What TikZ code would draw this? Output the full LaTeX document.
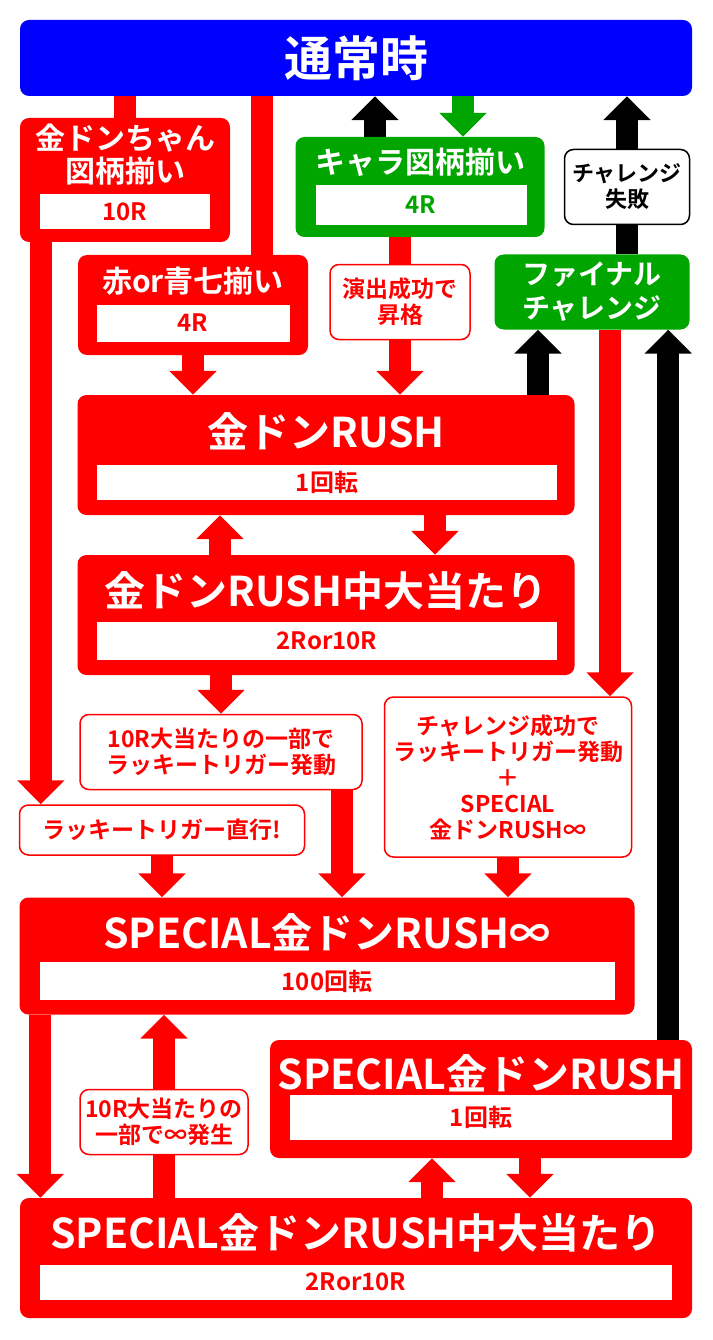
\documentclass[tikz,border=0pt]{standalone}
\usepackage{fontspec}
\setmainfont{Noto Sans CJK JP}[BoldFont=* Bold]
\usetikzlibrary{arrows.meta,backgrounds,positioning}
\definecolor{kred}{RGB}{255,0,0}
\definecolor{kgreen}{RGB}{0,165,0}
\definecolor{kblue}{RGB}{0,0,255}
\tikzset{
  box/.style={rounded corners=9pt,inner sep=0pt},
  redbox/.style={box,fill=kred},
  greenbox/.style={box,fill=kgreen},
  inbox/.style={fill=white,inner sep=0pt,text=kred,font=\bfseries\fontsize{24}{26}\selectfont},
  title/.style={text=white,align=center,font=\bfseries\fontsize{41}{44}\selectfont},
  stitle/.style={text=white,align=center,font=\bfseries\fontsize{30}{33}\selectfont},
  labbox/.style={box,fill=white,draw=kred,line width=1.5pt,align=center,text=kred,
    font=\bfseries\fontsize{23}{26}\selectfont},
  flow/.style={line width=22pt,kred},
  flowarr/.style={flow,-{Triangle[length=24pt,width=46pt]}},
}
\begin{document}
\begin{tikzpicture}[x=1pt,y=-1pt]
  \useasboundingbox (0,0) rectangle (712,1340);
  % boxes
  \node[box,fill=kblue,minimum width=672,minimum height=76](top) at (356,58) {};
  \node[text=white,font=\bfseries\fontsize{48}{50}\selectfont](topT) at (356,58) {通常時};

  \node[redbox,minimum width=210,minimum height=124](kin) at (125,180) {};
  \node[stitle](kinT) at (125,155) {金ドンちゃん\\図柄揃い};
  \node[inbox,minimum width=170,minimum height=35](kinR) at (125,212) {10R};

  \node[redbox,minimum width=230,minimum height=100](aka) at (193,305) {};
  \node[stitle](akaT) at (193,281) {赤or青七揃い};
  \node[inbox,minimum width=193,minimum height=37](akaR) at (193,323) {4R};

  \node[greenbox,minimum width=249,minimum height=100](chara) at (420,187) {};
  \node[stitle](charaT) at (420,162) {キャラ図柄揃い};
  \node[inbox,text=kgreen,minimum width=211,minimum height=40](charaR) at (421,205) {4R};

  \node[box,fill=white,draw=black,line width=1.5pt,minimum width=125,minimum height=75,
    align=center,font=\bfseries\fontsize{22}{26}\selectfont](fail) at (627,187) {チャレンジ\\失敗};
  \node[greenbox,minimum width=195,minimum height=75,text=white,align=center,
    font=\bfseries\fontsize{28}{34}\selectfont](final) at (592,292) {ファイナル\\チャレンジ};

  \node[redbox,minimum width=497,minimum height=120](rush) at (326,455) {};
  \node[title](rushT) at (326,431) {金ドンRUSH};
  \node[inbox,minimum width=460,minimum height=35](rushR) at (327,482) {1回転};

  \node[redbox,minimum width=497,minimum height=120](rushhit) at (326,615) {};
  \node[title](rushhitT) at (326,591) {金ドンRUSH中大当たり};
  \node[inbox,minimum width=460,minimum height=38](rushhitR) at (327,641) {2Ror10R};

  \node[redbox,minimum width=615,minimum height=117](sp) at (327,956) {};
  \node[title](spT) at (327,932) {SPECIAL金ドンRUSH∞};
  \node[inbox,minimum width=575,minimum height=38](spR) at (327,981) {100回転};

  \node[redbox,minimum width=422,minimum height=118](sp1) at (481,1099) {};
  \node[title](sp1T) at (481,1073) {SPECIAL金ドンRUSH};
  \node[inbox,minimum width=382,minimum height=45](sp1R) at (481,1117) {1回転};

  \node[redbox,minimum width=672,minimum height=120](sphit) at (356,1258) {};
  \node[title](sphitT) at (356,1233) {SPECIAL金ドンRUSH中大当たり};
  \node[inbox,minimum width=632,minimum height=35](sphitR) at (356,1282) {2Ror10R};

  % labels
  \node[labbox,minimum width=140,minimum height=75](enshutsu) at (400,302) {演出成功で\\昇格};
  \node[labbox,minimum width=282,minimum height=75](lucky) at (221,752) {10R大当たりの一部で\\ラッキートリガー発動};
  \node[labbox,minimum width=247,minimum height=160](success) at (508,777)
    {チャレンジ成功で\\ラッキートリガー発動\\＋\\SPECIAL\\金ドンRUSH∞};
  \node[labbox,minimum width=285,minimum height=50](direct) at (162,830) {ラッキートリガー直行!};
  \node[labbox,minimum width=168,minimum height=65](inf) at (164,1122) {10R大当たりの\\一部で∞発生};

  % connectors
  \begin{scope}[on background layer]
    \draw[flow] (kin.north |- top.south) -- (kin.north);
    \draw[flow] ([xshift=-46pt]aka.north east |- top.south) -- ([xshift=-46pt]aka.north east);
    \draw[flowarr] ([xshift=21pt]kin.south west) -- ([xshift=21pt]kin.south west |- direct.north);
    \draw[flowarr] (aka.south) -- (aka.south |- rush.north);
    \draw[flowarr] (enshutsu |- chara.south) -- (enshutsu |- rush.north);
    \draw[flowarr,kgreen] ([xshift=43pt]chara.north |- top.south) -- ([xshift=43pt]chara.north);
    \draw[flowarr,black] ([xshift=-45pt]chara.north) -- ([xshift=-45pt]chara.north |- top.south);
    \draw[flowarr,black] (fail.north) -- (fail.north |- top.south);
    \draw[flow,black] (fail.south) -- (fail.south |- final.north);
    \draw[flowarr,black] ([xshift=-54pt]final.south |- rush.north) -- ([xshift=-54pt]final.south);
    \draw[flowarr,black] ([xshift=-24pt]sp1.north east) -- ([xshift=-24pt]sp1.north east |- final.south);
    \draw[flowarr] ([xshift=18pt]final.south) -- ([xshift=18pt]final.south |- success.north);
    \draw[flowarr] ([xshift=-106pt]rushhit.north) -- ([xshift=-106pt]rush.south);
    \draw[flowarr] ([xshift=109pt]rush.south) -- ([xshift=109pt]rushhit.north);
    \draw[flowarr] (lucky.north |- rushhit.south) -- (lucky.north);
    \draw[flowarr] ([xshift=121pt]lucky.south) -- ([xshift=121pt]lucky.south |- sp.north);
    \draw[flowarr] (success.south) -- (success.south |- sp.north);
    \draw[flowarr] (direct.south) -- (direct.south |- sp.north);
    \draw[flowarr] ([xshift=21pt]sp.south west) -- ([xshift=21pt]sp.south west |- sphit.north);
    \draw[flowarr] (inf |- sphit.north) -- (inf |- sp.south);
    \draw[flowarr] ([xshift=-49pt]sp1.south |- sphit.north) -- ([xshift=-49pt]sp1.south);
    \draw[flowarr] ([xshift=49pt]sp1.south) -- ([xshift=49pt]sp1.south |- sphit.north);
  \end{scope}
\end{tikzpicture}
\end{document}
